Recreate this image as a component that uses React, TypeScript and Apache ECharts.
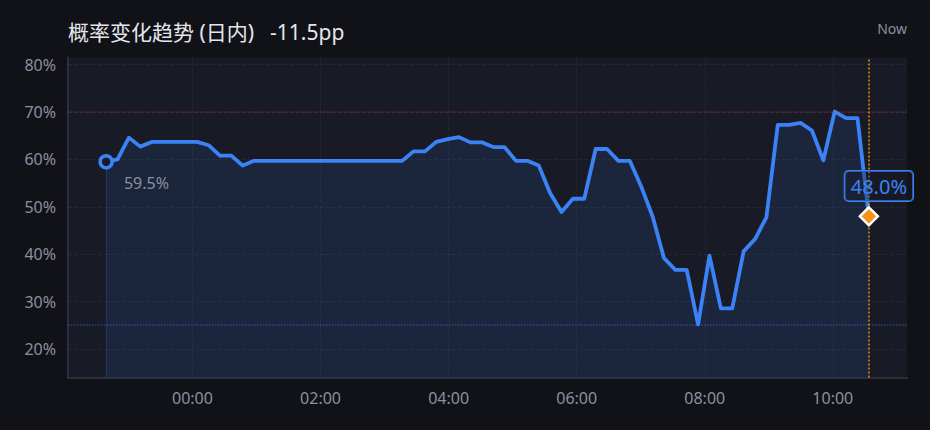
import React, { useEffect, useRef } from "react";
import * as echarts from "echarts";

// ---- data ----
const START_TIME = "2024-01-01T22:39:06"; // first sample (local time)
const STEP_SECONDS = 640; // sampling step between readings
const probValues: number[] = [
  59.5, 60.0, 64.6, 62.7, 63.7, 63.7, 63.7, 63.7, 63.7, 63.0,
  60.8, 60.8, 58.7, 59.7, 59.7, 59.7, 59.7, 59.7, 59.7, 59.7,
  59.7, 59.7, 59.7, 59.7, 59.7, 59.7, 59.7, 61.7, 61.7, 63.7,
  64.3, 64.7, 63.6, 63.6, 62.6, 62.6, 59.7, 59.7, 58.7, 52.9,
  48.9, 51.7, 51.7, 62.2, 62.2, 59.7, 59.7, 54.3, 48.0, 39.2,
  36.7, 36.7, 25.2, 39.7, 28.6, 28.6, 40.6, 43.2, 47.8, 67.3,
  67.3, 67.7, 66.1, 59.8, 70.1, 68.7, 68.7, 48.0,
];
const yTickValues = [20, 30, 40, 50, 60, 70, 80];
const X_TICK_DAY = "2024-01-02";
const xTickLabels = ["00:00", "02:00", "04:00", "06:00", "08:00", "10:00"];
const TITLE = "概率变化趋势 (日内)";
const NOW_LABEL = "Now";

const FONT = "'Noto Sans', 'Noto Sans CJK SC', sans-serif";

export default function App() {
  const ref = useRef<HTMLDivElement>(null);

  useEffect(() => {
    if (!ref.current) return;
    const chart = echarts.init(ref.current, undefined, { renderer: "svg" });

    const t0 = new Date(START_TIME).getTime();
    const points = probValues.map((v, i) => [t0 + i * STEP_SECONDS * 1000, v]);
    const first = points[0];
    const last = points[points.length - 1];
    const diff = (probValues[probValues.length - 1] - probValues[0]).toFixed(1);
    const xTicks = xTickLabels.map((s) => new Date(`${X_TICK_DAY}T${s}:00`).getTime());

    const fmtTime = (val: number) => {
      const d = new Date(val);
      const hh = String(d.getHours()).padStart(2, "0");
      const mm = String(d.getMinutes()).padStart(2, "0");
      return `${hh}:${mm}`;
    };

    const gridLine = { color: "rgba(255,255,255,0.05)", type: "dashed", width: 1 };

    const option: any = {
      animation: false,
      backgroundColor: "#111217",
      textStyle: { fontFamily: FONT },
      title: {
        left: 63,
        top: 16,
        text: `{a|${TITLE}}{b|${diff}pp}`,
        textStyle: {
          rich: {
            a: { fontSize: 21, fontWeight: "normal", color: "#e4e6ec", fontFamily: FONT, padding: [0, 16, 0, 0] },
            b: { fontSize: 21, fontWeight: "normal", color: "#e4e6ec", fontFamily: FONT },
          },
        },
      },
      graphic: [
        {
          type: "text",
          right: 23,
          top: 21,
          style: {
            text: NOW_LABEL,
            fill: "#8b8fa0",
            font: `14px ${FONT}`,
          },
        },
      ],
      grid: {
        left: 68,
        right: 23,
        top: 57.5,
        bottom: 52.5,
        show: true,
        backgroundColor: "#181a25",
        borderWidth: 0,
      },
      xAxis: {
        type: "time",
        min: (v: any) => v.min - (v.max - v.min) * 0.05,
        max: (v: any) => v.max + (v.max - v.min) * 0.05,
        axisLine: { show: true, lineStyle: { color: "#2b2e3c", width: 2 } },
        axisTick: { show: false },
        axisLabel: {
          color: "#8b8fa0",
          fontSize: 16,
          margin: 12,
          fontFamily: FONT,
          formatter: (val: number) => {
            const s = fmtTime(val);
            return xTickLabels.indexOf(s) >= 0 ? s : "";
          },
        },
        splitLine: { show: false },
      },
      yAxis: {
        type: "value",
        min: 14,
        max: 81.5,
        axisLine: { show: true, lineStyle: { color: "#2b2e3c", width: 2 } },
        axisTick: { show: false },
        axisLabel: {
          color: "#8b8fa0",
          fontSize: 16,
          margin: 12,
          fontFamily: FONT,
          formatter: "{value}%",
          customValues: yTickValues,
        },
        splitLine: { show: false },
      },
      series: [
        {
          type: "line",
          data: points,
          showSymbol: false,
          symbol: "none",
          lineStyle: { color: "#3b82f6", width: 3.8, join: "round" },
          areaStyle: { color: "rgba(59,130,246,0.15)" },
          z: 3,
          markLine: {
            silent: true,
            symbol: "none",
            label: { show: false },
            data: [
              ...yTickValues.map((v) => ({ yAxis: v, lineStyle: gridLine })),
              ...xTicks.map((t) => ({ xAxis: t, lineStyle: gridLine })),
              {
                type: "max",
                lineStyle: { color: "rgba(220,60,60,0.42)", type: "dotted", width: 1.5 },
              },
              {
                type: "min",
                lineStyle: { color: "rgba(59,130,246,0.45)", type: "dotted", width: 1.5 },
              },
              [
                { coord: first, lineStyle: { color: "rgba(59,130,246,0.2)", type: "solid", width: 1.2 } },
                { coord: [first[0], 14] },
              ],
              {
                xAxis: last[0],
                lineStyle: { color: "rgba(245,158,11,0.7)", type: "dotted", width: 2 },
              },
            ],
          },
        },
        {
          type: "scatter",
          data: [first],
          symbol: "circle",
          symbolSize: 12,
          z: 5,
          itemStyle: { color: "#181a25", borderColor: "#3b82f6", borderWidth: 3.5, opacity: 1 },
          label: {
            show: true,
            position: "right",
            distance: 10,
            offset: [0, 21],
            formatter: (p: any) => `${p.value[1].toFixed(1)}%`,
            color: "#8b8fa0",
            fontSize: 16,
            fontFamily: FONT,
          },
        },
        {
          type: "scatter",
          data: [last],
          symbol: "diamond",
          symbolSize: 18,
          z: 6,
          itemStyle: { color: "#f7931a", borderColor: "#ffffff", borderWidth: 2.5, opacity: 1 },
          label: {
            show: true,
            position: "top",
            distance: 5,
            offset: [10, 0],
            formatter: (p: any) => `${p.value[1].toFixed(1)}%`,
            color: "#3b82f6",
            fontSize: 20,
            lineHeight: 22,
            fontFamily: FONT,
            padding: [4, 6],
            borderColor: "#3b82f6",
            borderWidth: 1,
            borderRadius: 4,
            backgroundColor: "rgba(24,26,37,0.35)",
          },
        },
      ],
    };

    chart.setOption(option);
    return () => chart.dispose();
  }, []);

  return (
    <div
      ref={ref}
      style={{ position: "fixed", left: 0, top: 0, width: 930, height: 430, background: "#111217" }}
    />
  );
}
